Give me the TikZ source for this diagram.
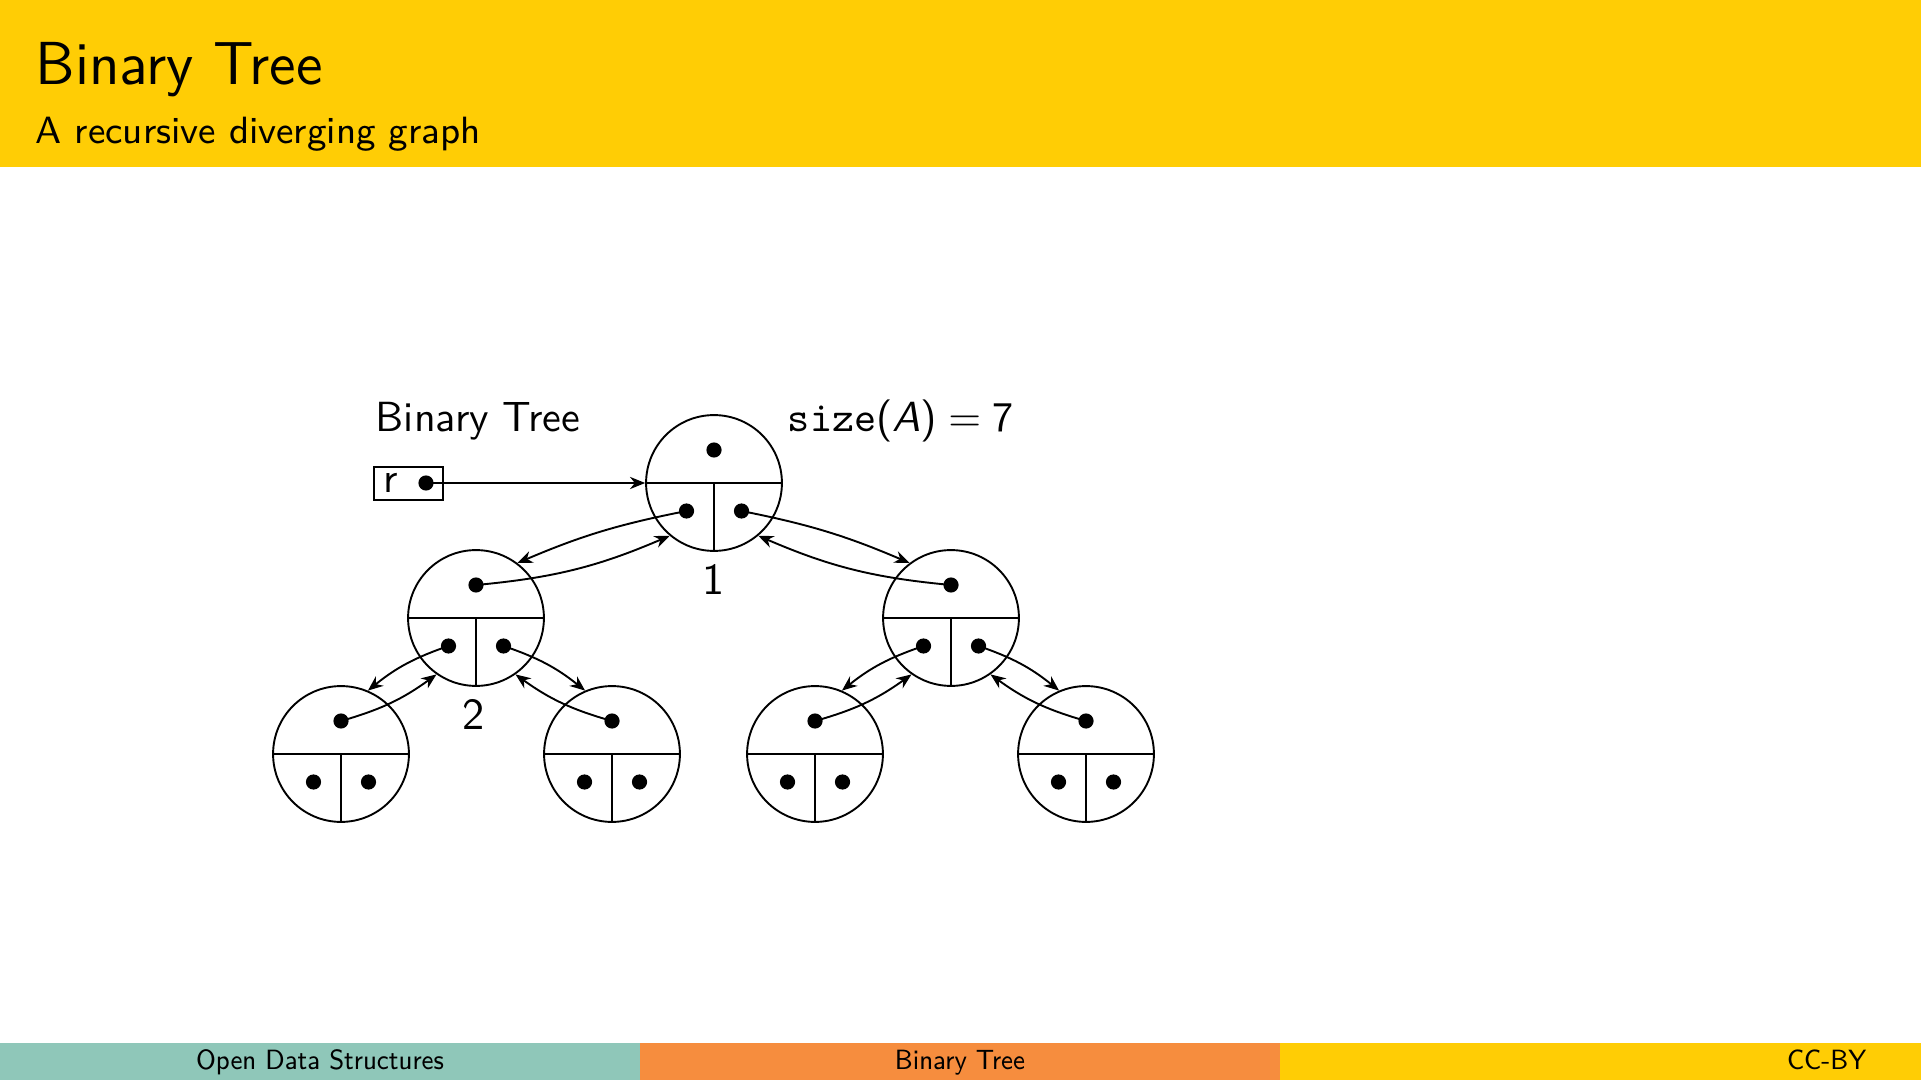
\documentclass[tikz,border=0pt]{standalone}
\usepackage{fontspec}
\usetikzlibrary{arrows.meta}
\definecolor{hdryellow}{RGB}{255,205,5}
\definecolor{ftteal}{RGB}{143,199,185}
\definecolor{ftorange}{RGB}{246,141,62}
\definecolor{ftyellow}{RGB}{255,205,5}
\tikzset{
  tnode/.style={circle, draw, line width=0.45pt, minimum size=32.2pt, inner sep=0pt},
  dotn/.style={circle, fill=black, minimum size=3.6pt, inner sep=0pt},
  ptr/.style={-{Stealth[length=3.6pt,width=2.9pt]}, line width=0.45pt},
  lbl/.style={font=\sffamily\fontsize{10.5}{12}\selectfont, inner sep=0pt},
  txt/.style={font=\sffamily\fontsize{10}{12}\selectfont, inner sep=0pt, anchor=base west},
  foot/.style={font=\sffamily\fontsize{6}{7}\selectfont, inner sep=0pt, anchor=base, yscale=1.1},
}
% one tree node: circle, split lines and the three pointer dots
\newcommand\bnode[3]{%
  \node[tnode] (#1) at (#2,#3) {};
  \draw[line width=0.45pt] (#1.west) -- (#1.east) (#1.center) -- (#1.south);
  \path (#2,#3) ++(0,-33) node[dotn] (#1-t) {}
        (#2,#3) ++(-27.5,28) node[dotn] (#1-l) {}
        (#2,#3) ++(27.5,28) node[dotn] (#1-r) {};
}
\begin{document}
\begin{tikzpicture}[x=0.0083290cm, y=-0.0083290cm]
\useasboundingbox (0,0) rectangle (1921,1080);
% header
\fill[hdryellow] (0,0) rectangle (1921,167);
\node[font=\sffamily\fontsize{14.4}{17}\selectfont, inner sep=0pt, anchor=base west] (title) at (35,85) {Binary Tree};
\node[font=\sffamily\fontsize{9}{11}\selectfont, inner sep=0pt, anchor=base west] (subtitle) at (35,144) {A recursive diverging graph};
% footer
\fill[ftteal] (0,1043) rectangle (640,1080);
\fill[ftorange] (640,1043) rectangle (1280,1080);
\fill[ftyellow] (1280,1043) rectangle (1921,1080);
\node[foot] (f1) at (320,1069) {Open Data Structures};
\node[foot] (f2) at (960,1069) {Binary Tree};
\node[foot, anchor=base east] (f3) at (1867,1069) {CC-BY};
% captions
\node[txt] (cap) at (375,432) {Binary Tree};
\node[txt] (size) at (787,432) {\texttt{size}(\textit{A})\hspace{2.6pt}$=$\hspace{2.6pt}7};
% root pointer
\node[draw, line width=0.45pt, inner sep=0pt, minimum width=16.35pt, minimum height=7.82pt] (rbox) at (408.5,483.5) {};
\node[font=\sffamily\fontsize{10}{12}\selectfont, inner sep=0pt, anchor=base] (rname) at (391,493) {r};
\node[dotn] (rdot) at (426,483) {};
% the tree
\bnode{n0}{714}{483}
\bnode{n1}{476}{618}
\bnode{n2}{951}{618}
\bnode{n3}{341}{754}
\bnode{n4}{612}{754}
\bnode{n5}{815}{754}
\bnode{n6}{1086}{754}
\node[lbl] (l1) at (714,579) {1};
\node[lbl] (l2) at (474,714) {2};
% pointers
\draw[ptr] (rdot.center) -- (n0.west);
\draw[ptr] (n0-l.center) to[bend right=6] (n1.53);
\draw[ptr] (n1-t.center) to[bend right=9] (n0.230);
\draw[ptr] (n0-r.center) to[bend left=6] (n2.127);
\draw[ptr] (n2-t.center) to[bend left=9] (n0.310);
\draw[ptr] (n1-l.center) to[bend right=10] (n3.67);
\draw[ptr] (n3-t.center) to[bend right=10] (n1.235);
\draw[ptr] (n1-r.center) to[bend left=10] (n4.113);
\draw[ptr] (n4-t.center) to[bend left=10] (n1.305);
\draw[ptr] (n2-l.center) to[bend right=10] (n5.67);
\draw[ptr] (n5-t.center) to[bend right=10] (n2.235);
\draw[ptr] (n2-r.center) to[bend left=10] (n6.113);
\draw[ptr] (n6-t.center) to[bend left=10] (n2.305);
\end{tikzpicture}
\end{document}
